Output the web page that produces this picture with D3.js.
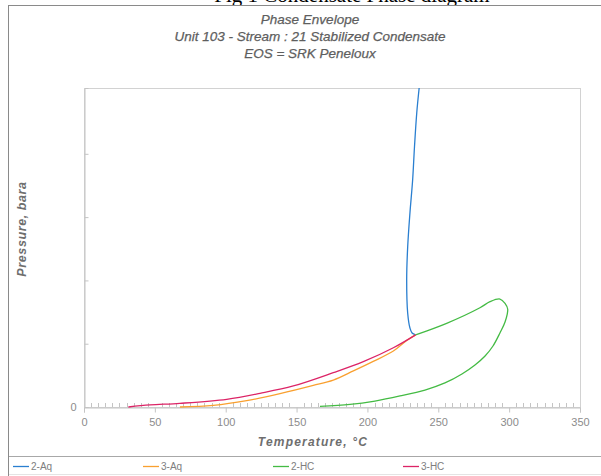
<!DOCTYPE html>
<html><head><meta charset="utf-8">
<script src="https://cdn.jsdelivr.net/npm/d3@7"></script>
<style>
html,body{margin:0;padding:0;background:#fff;}
svg{display:block;}
text{font-family:"Liberation Sans",Arial,sans-serif;}
</style></head>
<body>
<svg id="c" width="601" height="476"></svg>
<script>
// ---- data ----
const seriesNames = ["2-Aq", "3-Aq", "2-HC", "3-HC"];
const seriesColors = ["#2a7fd0", "#f9a030", "#44bb44", "#dc2466"];
const xTickValues = [0, 50, 100, 150, 200, 250, 300, 350];
const yTickValues = [0, 50, 100, 150, 200];
const yTickLabels = ["0", "", "", "", ""];
// temperature (°C), pressure (bara)
const aq2T = [236.5, 234.8, 233.2, 231.9, 230.0, 228.4, 227.7, 228.4, 230.0, 231.5, 234.0];
const aq2P = [252.0, 232.3, 205.4, 179.3, 153.3, 126.4, 100.3, 74.3, 62.4, 58.5, 57.0];
const aq3T = [67.7, 91.2, 114.8, 138.3, 161.8, 175.9, 190.1, 204.1, 218.3, 227.7, 234.0];
const aq3P = [0.0, 1.3, 5.0, 10.5, 17.0, 21.3, 28.5, 36.0, 44.2, 52.5, 57.0];
const hc2T = [234.0, 255.9, 279.4, 286.5, 293.5, 297.1, 299.0, 297.1, 293.5, 288.6, 283.0, 275.9, 266.7, 254.7, 240.6, 223.0, 205.3, 187.7, 166.5];
const hc2P = [57.0, 66.1, 78.4, 83.2, 85.3, 81.9, 77.2, 67.1, 58.5, 48.2, 40.3, 33.2, 26.1, 19.0, 13.4, 8.7, 4.7, 2.0, 0.5];
const hc3T = [31.3, 46.6, 67.7, 100.7, 124.2, 147.7, 175.9, 197.1, 218.3, 234.0];
const hc3P = [0.0, 1.6, 2.9, 6.1, 10.8, 16.6, 27.1, 35.8, 46.8, 57.0];

const seriesT = [aq2T, aq3T, hc2T, hc3T];
const seriesP = [aq2P, aq3P, hc2P, hc3P];

// ---- layout ----
const svg = d3.select("#c");
const L = 84, R = 580, T = 88, B = 407;
const x = d3.scaleLinear().domain([0, 350]).range([L, R]);
const y = d3.scaleLinear().domain([0, 252]).range([B, T]);

// cut-off caption above the chart (as in the reference)
svg.append("text").attr("x", 352).attr("y", 2).attr("text-anchor", "middle")
  .style("font-family", "'Liberation Serif','Times New Roman',serif").style("font-size", "21px")
  .attr("fill", "#000").text("Fig 1 Condensate Phase diagram");

// outer frame
svg.append("rect").attr("x", 8.5).attr("y", 5.5).attr("width", 620).attr("height", 500)
  .attr("fill", "#fff").attr("stroke", "#8a8a8a");
svg.append("line").attr("x1", 9).attr("x2", 601).attr("y1", 456.5).attr("y2", 456.5).attr("stroke", "#a8a8a8");
svg.append("line").attr("x1", 9).attr("x2", 601).attr("y1", 474.5).attr("y2", 474.5).attr("stroke", "#e4e4e4");

// titles
const titles = ["Phase Envelope", "Unit 103 - Stream : 21 Stabilized Condensate", "EOS = SRK Peneloux"];
titles.forEach((t, i) => {
  svg.append("text").attr("x", 310).attr("y", 24 + i * 17).attr("text-anchor", "middle")
    .style("font-size", "13.5px").style("font-style", "italic").attr("fill", "#5e5e5e")
    .attr("stroke", "#5e5e5e").attr("stroke-width", 0.25).text(t);
});

// plot frame
svg.append("rect").attr("x", L + 0.5).attr("y", T + 0.5).attr("width", R - L).attr("height", B - T)
  .attr("fill", "none").attr("stroke", "#d2d2d2");

// x axis (major ticks down)
const xAxis = svg.append("g").attr("transform", `translate(0,${B + 0.5})`)
  .call(d3.axisBottom(x).tickValues(xTickValues).tickSize(5).tickPadding(6).tickFormat(d3.format("d")));
xAxis.select(".domain").attr("stroke", "#c4c4c4");
xAxis.selectAll(".tick line").attr("stroke", "#c4c4c4");
xAxis.selectAll("text").attr("fill", "#8c8c8c").style("font-size", "11px").style("font-family", "'Liberation Sans',Arial,sans-serif");
// minor ticks up
svg.append("g").selectAll("line").data(d3.range(5, 350, 5).filter(v => v % 50 !== 0)).join("line")
  .attr("x1", d => Math.round(x(d)) + 0.5).attr("x2", d => Math.round(x(d)) + 0.5)
  .attr("y1", B).attr("y2", B - 4).attr("stroke", "#c4c4c4");

// y axis (ticks inward)
const yAxis = svg.append("g").attr("transform", `translate(${L + 0.5},0)`)
  .call(d3.axisLeft(y).tickValues(yTickValues).tickSize(-4).tickPadding(8)
    .tickFormat((d, i) => yTickLabels[i]));
yAxis.select(".domain").attr("stroke", "#c4c4c4");
yAxis.selectAll(".tick line").attr("stroke", "#c4c4c4");
yAxis.selectAll("text").attr("fill", "#8c8c8c").style("font-size", "11px").style("font-family", "'Liberation Sans',Arial,sans-serif");

// axis titles
svg.append("text").attr("transform", "translate(26,229) rotate(-90)").attr("text-anchor", "middle")
  .style("font-size", "12.5px").style("font-style", "italic").style("font-weight", "bold")
  .style("letter-spacing", "0.6px").attr("fill", "#6e6e6e").text("Pressure, bara");
svg.append("text").attr("x", 313).attr("y", 446).attr("text-anchor", "middle")
  .style("font-size", "12px").style("font-style", "italic").style("font-weight", "bold")
  .style("letter-spacing", "1.2px").attr("fill", "#6e6e6e").text("Temperature, °C");

// series lines
svg.append("clipPath").attr("id", "pc").append("rect")
  .attr("x", L).attr("y", T).attr("width", R - L).attr("height", B - T + 1);
const line = d3.line().x(d => x(d[0])).y(d => y(d[1])).curve(d3.curveCatmullRom.alpha(0.5));
seriesNames.forEach((n, i) => {
  const pts = seriesT[i].map((t, j) => [t, seriesP[i][j]]);
  svg.append("path").attr("d", line(pts))
    .attr("fill", "none").attr("stroke", seriesColors[i]).attr("stroke-width", 1.3)
    .attr("clip-path", "url(#pc)");
});

// legend
seriesNames.forEach((n, i) => {
  const lx = 13 + i * 130;
  svg.append("line").attr("x1", lx).attr("x2", lx + 16).attr("y1", 466.5).attr("y2", 466.5)
    .attr("stroke", seriesColors[i]).attr("stroke-width", 1.3);
  svg.append("text").attr("x", lx + 18).attr("y", 470).style("font-size", "10px")
    .attr("fill", "#7e7e7e").text(n);
});
</script>
</body></html>
